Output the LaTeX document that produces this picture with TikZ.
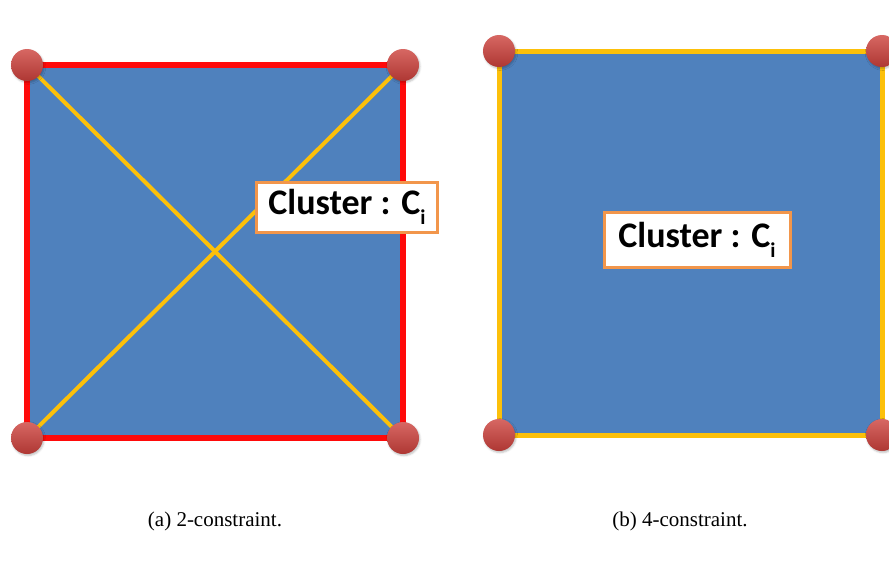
\documentclass[tikz,border=0pt]{standalone}
\usepackage{fontspec}
\setmainfont{Liberation Serif}
\newfontfamily\labelfont{Carlito}
\usetikzlibrary{positioning, shadows.blur}
\definecolor{fieldblue}{RGB}{79,129,189}
\definecolor{edgered}{RGB}{255,10,10}
\definecolor{edgegold}{RGB}{252,192,10}
\definecolor{dotred}{RGB}{205,65,60}
\definecolor{tagorange}{RGB}{242,150,75}

\tikzset{
  corner/.style={circle, inner sep=0pt, minimum size=32pt,
                 top color=dotred!80!white, bottom color=dotred!85!black,
                 blur shadow={shadow xshift=1pt, shadow yshift=-1.5pt, shadow opacity=25}},
  tag/.style={draw=tagorange, line width=3pt, fill=white, inner sep=0pt,
              font=\labelfont\bfseries\fontsize{36}{36}\selectfont},
  caption/.style={font=\fontsize{21}{21}\selectfont, inner sep=0pt}
}
\newcommand{\clusterlabel}{Cluster : C\raisebox{-10pt}{\fontsize{21}{21}\selectfont i}}

\begin{document}
\begin{tikzpicture}[x=1pt, y=-1pt]
  \useasboundingbox (0,0) rectangle (889,562);

  % (a) two constraints: diagonals
  \coordinate (aTL) at (27,65);
  \coordinate (aTR) at (403,65);
  \coordinate (aBR) at (403,438);
  \coordinate (aBL) at (27,438);
  \fill[fieldblue] (aTL) rectangle (aBR);
  \draw[edgegold, line width=4pt] (aTL) -- (aBR);
  \draw[edgegold, line width=4pt] (aTR) -- (aBL);
  \draw[edgered, line width=5.5pt] (aTL) -- (aTR) -- (aBR) -- (aBL) -- cycle;
  \node[tag, minimum width=181pt, minimum height=50pt] (tagA) at (347,207) {\clusterlabel};
  \foreach \c in {aTL, aTR, aBR, aBL}
    \node[corner] (dot-\c) at (\c) {};

  % (b) four constraints: sides
  \coordinate (bTL) at (499,51);
  \coordinate (bTR) at (882,51);
  \coordinate (bBR) at (882,435);
  \coordinate (bBL) at (499,435);
  \fill[fieldblue] (bTL) rectangle (bBR);
  \draw[edgegold, line width=5pt] (bTL) -- (bTR) -- (bBR) -- (bBL) -- cycle;
  \node[tag, minimum width=186pt, minimum height=55pt] (tagB) at (697,240) {\clusterlabel};
  \foreach \c in {bTL, bTR, bBR, bBL}
    \node[corner] (dot-\c) at (\c) {};

  \node[caption] (capA) at (215,521) {(a) 2-constraint.};
  \node[caption] (capB) at (680,521) {(b) 4-constraint.};
\end{tikzpicture}
\end{document}
